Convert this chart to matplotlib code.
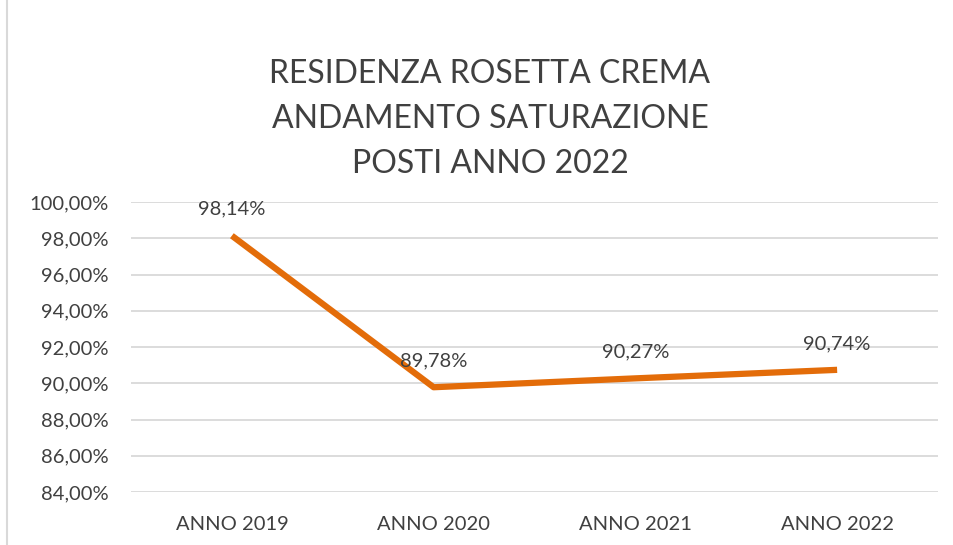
import matplotlib.pyplot as plt
from matplotlib.lines import Line2D

YEARS = ["ANNO 2019", "ANNO 2020", "ANNO 2021", "ANNO 2022"]
SATURATION = [98.14, 89.78, 90.27, 90.74]
Y_TICKS = [84, 86, 88, 90, 92, 94, 96, 98, 100]
TITLE = "RESIDENZA ROSETTA CREMA\nANDAMENTO SATURAZIONE\nPOSTI ANNO 2022"


def pct(v):
    return f"{v:.2f}%".replace(".", ",")


def main():
    plt.rcParams["font.family"] = ["Lato", "DejaVu Sans"]
    fig = plt.figure(figsize=(9.54, 5.45), dpi=100)
    ax = fig.add_axes([131 / 954, 1 - 492 / 545, (938 - 131) / 954, (492 - 202) / 545])

    x = list(range(len(YEARS)))
    ax.plot(x, SATURATION, color="#E36C09", linewidth=4.5, solid_capstyle="butt", zorder=3)
    for xi, v in zip(x, SATURATION):
        ax.annotate(pct(v), (xi, v), xytext=(0, 19), textcoords="offset points",
                    ha="center", va="center", fontsize=14.5, color="#404040")

    ax.set_xlim(-0.5, len(YEARS) - 0.5)
    ax.set_ylim(84, 100)
    ax.set_yticks(Y_TICKS)
    ax.set_yticklabels([pct(t) for t in Y_TICKS])
    ax.set_xticks(x)
    ax.set_xticklabels(YEARS)
    ax.tick_params(length=0, labelsize=14.5, labelcolor="#404040")
    ax.tick_params(axis="y", pad=16)
    ax.tick_params(axis="x", pad=17)
    ax.grid(axis="y", color="#D9D9D9", linewidth=1.3)
    ax.set_axisbelow(True)
    for s in ax.spines.values():
        s.set_visible(False)

    fig.text(490 / 954, 1 - 119 / 545, TITLE, ha="center", va="center",
             fontsize=23, color="#404040", linespacing=1.61)

    fig.add_artist(Line2D([7.5 / 954, 7.5 / 954], [0, 1], color="#D9D9D9", linewidth=1.5,
                          transform=fig.transFigure))

    fig.savefig("out.png", dpi=100)


if __name__ == "__main__":
    main()
